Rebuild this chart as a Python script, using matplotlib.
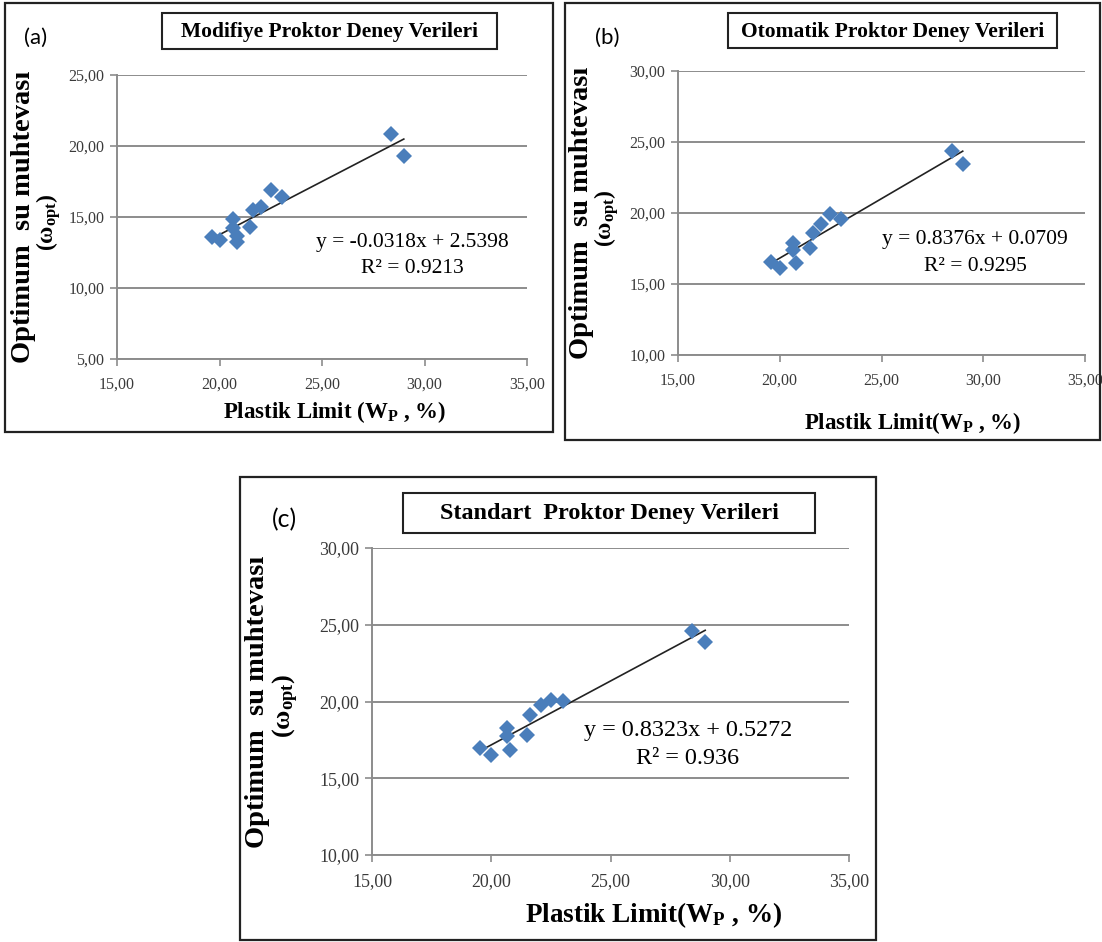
# Optimum su muhtevası - plastik limit ilişkisi, üç Proktor deneyi için
import matplotlib
matplotlib.use("Agg")
import matplotlib.pyplot as plt
import numpy as np
from matplotlib.patches import Rectangle
from matplotlib.ticker import FuncFormatter

plt.rcParams['mathtext.fontset'] = 'custom'
plt.rcParams['mathtext.rm'] = 'Liberation Serif:bold'
plt.rcParams['mathtext.it'] = 'Liberation Serif:bold'
plt.rcParams['mathtext.bf'] = 'Liberation Serif:bold'

# (a) Modifiye Proktor
wp_a = [19.62, 20.04, 20.67, 20.67, 20.84, 20.84, 21.49, 21.65, 22.02, 22.50, 23.03, 28.38, 28.99]
wopt_a = [13.62, 13.35, 14.83, 14.24, 13.66, 13.21, 14.31, 15.51, 15.69, 16.89, 16.39, 20.85, 19.30]
eq_a = "y = -0.0318x + 2.5398"
r2_a = "R² = 0.9213"

# (b) Otomatik Proktor
wp_b = [19.58, 20.02, 20.64, 20.63, 20.80, 21.50, 21.63, 22.01, 22.49, 23.02, 28.45, 28.99]
wopt_b = [16.56, 16.10, 17.90, 17.40, 16.45, 17.50, 18.60, 19.25, 19.95, 19.57, 24.35, 23.45]
fit_b = (0.8376, 0.0709)
eq_b = "y = 0.8376x + 0.0709"
r2_b = "R² = 0.9295"

# (c) Standart Proktor
wp_c = [19.53, 20.00, 20.66, 20.66, 20.78, 21.48, 21.64, 22.07, 22.50, 23.02, 28.41, 28.97]
wopt_c = [16.97, 16.49, 18.25, 17.72, 16.86, 17.84, 19.11, 19.74, 20.13, 20.02, 24.60, 23.88]
fit_c = (0.8323, 0.5272)
eq_c = "y = 0.8323x + 0.5272"
r2_c = "R² = 0.936"

W, H = 1102, 942
fig = plt.figure(figsize=(W / 100, H / 100), dpi=100)
fig.patch.set_facecolor('white')

SERIF = 'Liberation Serif'
BLUE = '#4a7ebb'
GRID = '#8c8c8c'
TICKC = '#3a3a3a'


def fx(px):
    return px / W


def fy(py):
    return 1 - py / H


def frame(l, t, r, b, lw=1.6):
    fig.patches.append(Rectangle((fx(l), fy(b)), fx(r) - fx(l), fy(t) - fy(b),
                                 transform=fig.transFigure, fill=False,
                                 edgecolor='#222222', linewidth=lw))


def comma(v, pos):
    return f"{v:.2f}".replace('.', ',')


def panel(box, title_box, tag_xy, label, x, y, fit, eq, r2, ylim, eq_pos, xlab, xlab_xy, ylab_x,
          k=1.0, xlab_size=16.5):
    l, t, r, b = box
    ax = fig.add_axes([fx(l), fy(b), fx(r) - fx(l), fy(t) - fy(b)])
    ax.set_xlim(15, 35)
    ax.set_ylim(*ylim)
    ax.set_xticks(np.arange(15, 36, 5))
    ax.set_yticks(np.arange(ylim[0], ylim[1] + 1, 5))
    ax.xaxis.set_major_formatter(FuncFormatter(comma))
    ax.yaxis.set_major_formatter(FuncFormatter(comma))
    ax.grid(axis='y', color=GRID, linewidth=1.4)
    ax.set_axisbelow(True)
    for s in ('top', 'right'):
        ax.spines[s].set_visible(False)
    for s in ('left', 'bottom'):
        ax.spines[s].set_color(GRID)
        ax.spines[s].set_linewidth(1.4)
    ax.tick_params(length=5, width=1.2, color=GRID, labelcolor=TICKC, labelsize=11.5 * k)
    ax.tick_params(axis='x', pad=8)
    ax.tick_params(axis='y', pad=4)
    for lab in ax.get_xticklabels() + ax.get_yticklabels():
        lab.set_family(SERIF)

    # trend line over the data range
    if fit is None:
        fit = np.polyfit(x, y, 1)
    xs = np.array([min(x), max(x)])
    ax.plot(xs, fit[0] * xs + fit[1], color='#222222', linewidth=1.2, zorder=2)
    ax.plot(x, y, 'D', color=BLUE, markersize=8.5, markeredgewidth=0, zorder=3)

    ax.text(eq_pos[0], eq_pos[1], eq, transform=ax.transAxes, ha='center', va='center',
            family=SERIF, fontsize=15.5 * k)
    ax.text(eq_pos[0], eq_pos[1] - 0.092, r2, transform=ax.transAxes, ha='center', va='center',
            family=SERIF, fontsize=15.5 * k)

    # axis titles
    fig.text(fx(xlab_xy[0]), fy(xlab_xy[1]), xlab, ha='center', va='center',
             family=SERIF, fontweight='bold', fontsize=xlab_size)
    fig.text(fx(ylab_x), fy((t + b) / 2), "Optimum  su muhtevası", rotation=90,
             ha='center', va='center', family=SERIF, fontweight='bold', fontsize=20.5)
    fig.text(fx(ylab_x + 25 * k), fy((t + b) / 2 + 5), r"$(\omega_{opt})$", rotation=90,
             ha='center', va='center', fontsize=17 * k)

    # title box and panel tag
    tl, tt, tr, tb = title_box
    frame(tl, tt, tr, tb, lw=1.5)
    fig.text(fx((tl + tr) / 2), fy((tt + tb) / 2 + 1), label, ha='center', va='center',
             family=SERIF, fontweight='bold', fontsize=15.5 * k)
    fig.text(fx(tag_xy[0]), fy(tag_xy[1]), tag_xy[2], ha='center', va='center',
             family='Lato', fontsize=16 * k)


# outer frames
frame(5, 3, 553, 432)
frame(565, 3, 1100, 440)
frame(240, 477, 876, 940)

panel((117, 75, 527, 359), (162, 13, 497, 49), (36, 38, '(a)'),
      "Modifiye Proktor Deney Verileri", wp_a, wopt_a, None, eq_a, r2_a,
      (5, 25), (0.72, 0.41), r"Plastik Limit (W$_{\rm P}$ , %)", (334, 412), 24)
panel((678, 71, 1085, 355), (728, 13, 1057, 48), (607, 38, '(b)'),
      "Otomatik Proktor Deney Verileri", wp_b, wopt_b, fit_b, eq_b, r2_b,
      (10, 30), (0.73, 0.405), r"Plastik Limit(W$_{\rm P}$ , %)", (913, 423), 582)
panel((372, 548, 849, 855), (403, 493, 815, 533), (284, 520, '(c)'),
      "Standart  Proktor Deney Verileri", wp_c, wopt_c, fit_c, eq_c, r2_c,
      (10, 30), (0.662, 0.407), r"Plastik Limit(W$_{\rm P}$ , %)", (654, 915), 258,
      k=1.12, xlab_size=19.5)

fig.savefig('out.png', dpi=100)
